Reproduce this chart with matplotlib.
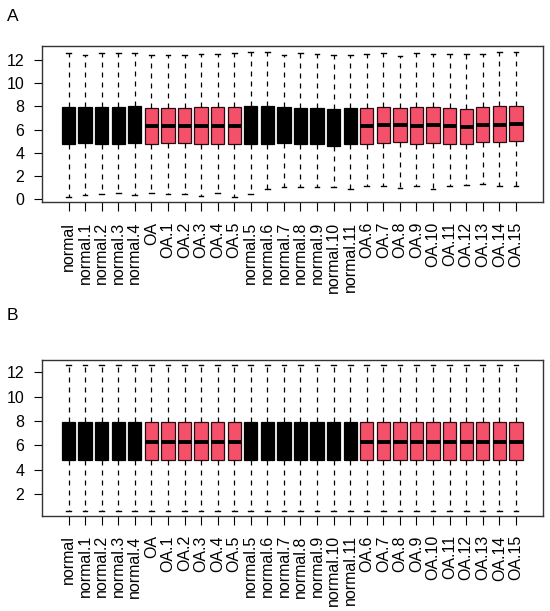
import numpy as np
import matplotlib
matplotlib.use("Agg")
import matplotlib.pyplot as plt

plt.rcParams['font.family'] = ['Liberation Sans', 'DejaVu Sans']

samples = ["normal", "normal.1", "normal.2", "normal.3", "normal.4",
           "OA", "OA.1", "OA.2", "OA.3", "OA.4", "OA.5",
           "normal.5", "normal.6", "normal.7", "normal.8", "normal.9",
           "normal.10", "normal.11",
           "OA.6", "OA.7", "OA.8", "OA.9", "OA.10", "OA.11", "OA.12",
           "OA.13", "OA.14", "OA.15"]
groups = ["normal"] * 5 + ["OA"] * 6 + ["normal"] * 7 + ["OA"] * 10

# panel A: raw expression
a_whislo = [0.22, 0.36, 0.45, 0.56, 0.39, 0.56, 0.45, 0.45, 0.30, 0.50, 0.16,
            0.40, 0.88, 1.06, 1.06, 1.06, 1.06, 0.86,
            1.09, 1.17, 1.00, 1.17, 0.83, 1.14, 1.20, 1.26, 1.12, 1.09]
a_q1 = [4.76, 4.85, 4.76, 4.76, 4.82, 4.79, 4.82, 4.85, 4.79, 4.79, 4.76,
        4.79, 4.73, 4.85, 4.71, 4.71, 4.59, 4.73,
        4.74, 4.82, 4.96, 4.79, 4.88, 4.76, 4.71, 4.93, 4.91, 5.00]
a_med = [6.3, 6.3, 6.3, 6.3, 6.3, 6.29, 6.29, 6.29, 6.26, 6.29, 6.29,
         6.3, 6.3, 6.3, 6.3, 6.3, 6.2, 6.3,
         6.29, 6.37, 6.37, 6.34, 6.37, 6.29, 6.20, 6.40, 6.43, 6.49]
a_q3 = [7.95, 7.95, 7.98, 7.95, 8.00, 7.86, 7.86, 7.86, 7.92, 7.92, 7.92,
        8.00, 8.00, 7.95, 7.89, 7.86, 7.78, 7.83,
        7.84, 7.95, 7.86, 7.92, 7.92, 7.83, 7.75, 7.95, 8.00, 8.04]
a_whishi = [12.57, 12.46, 12.60, 12.57, 12.60, 12.46, 12.43, 12.46, 12.52, 12.52, 12.60,
            12.66, 12.66, 12.46, 12.60, 12.55, 12.43, 12.40,
            12.49, 12.57, 12.34, 12.57, 12.49, 12.52, 12.49, 12.52, 12.71, 12.66]

# panel B: normalized, identical distributions
b_whislo = [0.62] * 28
b_q1 = [4.79] * 28
b_med = [6.29] * 28
b_q3 = [7.94] * 28
b_whishi = [12.6] * 28

colors = {"normal": "black", "OA": "#F5506A"}


def draw_panel(ax, whislo, q1, med, q3, whishi, ylim, yticks):
    stats = []
    for i in range(len(samples)):
        stats.append(dict(whislo=whislo[i], q1=q1[i], med=med[i], q3=q3[i],
                          whishi=whishi[i], fliers=[], label=samples[i]))
    pos = np.arange(1, len(samples) + 1)
    bp = ax.bxp(stats, positions=pos, widths=0.8, patch_artist=True,
                capwidths=0.28,
                whiskerprops=dict(linestyle=(0, (4, 4)), linewidth=0.9, color='black'),
                capprops=dict(linewidth=1.0, color='black'),
                medianprops=dict(linewidth=2.8, color='black', solid_capstyle='butt'),
                boxprops=dict(linewidth=0.9))
    for patch, g in zip(bp['boxes'], groups):
        patch.set_facecolor(colors[g])
        patch.set_edgecolor('#2a0a10' if g == "OA" else 'black')
    ax.set_xlim(-0.62, 29.62)
    ax.set_ylim(*ylim)
    ax.set_yticks(yticks)
    ax.set_xticks(pos)
    ax.set_xticklabels(samples, rotation=90)
    ax.tick_params(axis='x', length=6.5, width=0.8, pad=7.5, labelsize=11.5)
    ax.tick_params(axis='y', length=6, width=0.8, pad=6.5, labelsize=11.5)
    for s in ax.spines.values():
        s.set_linewidth(1.0)
        s.set_color('#333333')


fig = plt.figure(figsize=(5.5, 6.11), dpi=100)
axA = fig.add_axes([0.0758, 0.669, 0.911, 0.2563])
axB = fig.add_axes([0.0758, 0.156, 0.911, 0.2548])

draw_panel(axA, a_whislo, a_q1, a_med, a_q3, a_whishi, (-0.27, 13.23), [0, 2, 4, 6, 8, 10, 12])
draw_panel(axB, b_whislo, b_q1, b_med, b_q3, b_whishi, (0.21, 13.0), [2, 4, 6, 8, 10, 12])

fig.text(0.012, 1 - 9 / 611, "A", fontsize=12.5, va='top', ha='left')
fig.text(0.012, 1 - 308 / 611, "B", fontsize=12.5, va='top', ha='left')

fig.savefig("out.png", dpi=100)
